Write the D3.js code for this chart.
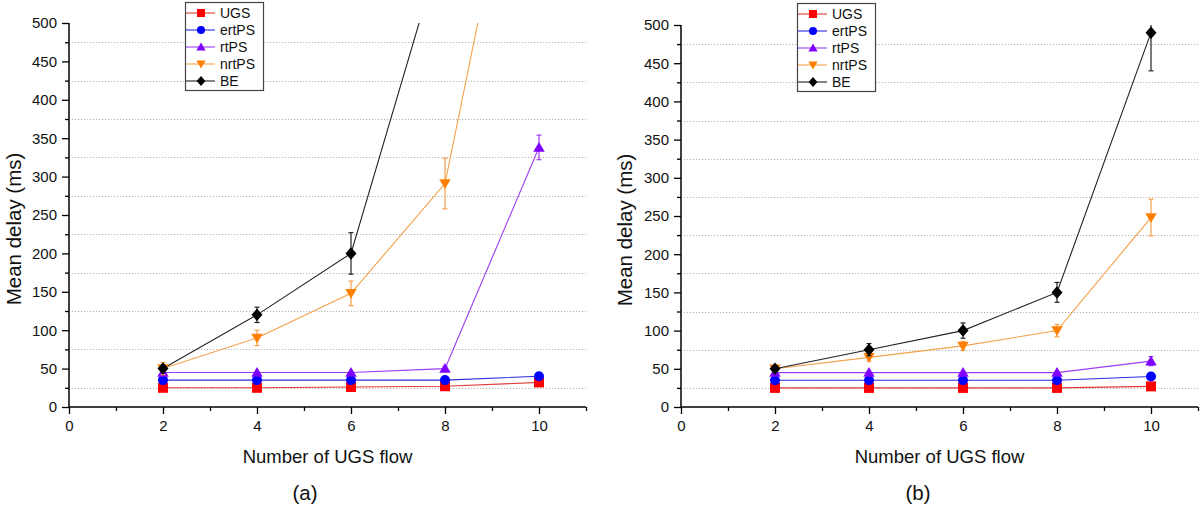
<!DOCTYPE html>
<html>
<head>
<meta charset="utf-8">
<script src="https://cdn.jsdelivr.net/npm/d3@7"></script>
<style>
  html, body { margin: 0; padding: 0; background: #fff; }
  svg { display: block; font-family: "Liberation Sans", Arial, sans-serif; }
</style>
</head>
<body>
<svg id="chart" width="1200" height="506"></svg>
<script>
// ---------- data ----------
const xValues = [2, 4, 6, 8, 10];
const seriesNames = ["UGS", "ertPS", "rtPS", "nrtPS", "BE"];
const yTicks = [0, 50, 100, 150, 200, 250, 300, 350, 400, 450, 500];
const xTicks = [0, 2, 4, 6, 8, 10];
const panelLabels = ["(a)", "(b)"];

// panel (a)
const ugsA   = [25, 25, 26, 27, 32];
const ertpsA = [35, 35, 35, 35, 40];
const rtpsA  = [45, 45, 45, 50, 338];
const nrtpsA = [50, 90, 148, 291, 890];
const beA    = [50, 120, 200, 614, null];
const ugsErrA   = [1, 1, 1, 1, 2];
const ertpsErrA = [1, 1, 1, 1, 2];
const rtpsErrA  = [1, 1, 1, 3, 16];
const nrtpsErrA = [8, 10, 16, 33, 0];
const beErrA    = [4, 10, 27, 0, 0];

// panel (b)
const ugsB   = [25, 25, 25, 25, 27];
const ertpsB = [35, 35, 35, 35, 40];
const rtpsB  = [45, 45, 45, 45, 60];
const nrtpsB = [50, 65, 80, 100, 248];
const beB    = [50, 75, 100, 150, 490];
const ugsErrB   = [1, 1, 1, 1, 2];
const ertpsErrB = [1, 1, 1, 1, 2];
const rtpsErrB  = [1, 1, 1, 2, 6];
const nrtpsErrB = [3, 5, 6, 8, 24];
const beErrB    = [3, 8, 10, 13, 50];

// ---------- styles ----------
const markerColors = ["#ff0000", "#0000ff", "#8000ff", "#ff8000", "#000000"];
const lineColors   = ["#e03a3a", "#2a2ae0", "#9a3cf0", "#f5a04a", "#222222"];
const shapes = ["square", "circle", "triangle", "triangleDown", "diamond"];

const panels = [
  { left: 69, right: 586, top: 23, bottom: 407, legendX: 185, legendY: 2,
    values: [ugsA, ertpsA, rtpsA, nrtpsA, beA],
    errors: [ugsErrA, ertpsErrA, rtpsErrA, nrtpsErrA, beErrA],
    yTitleX: 13, labelX: 305 },
  { left: 681, right: 1198, top: 25, bottom: 407, legendX: 797, legendY: 3,
    values: [ugsB, ertpsB, rtpsB, nrtpsB, beB],
    errors: [ugsErrB, ertpsErrB, rtpsErrB, nrtpsErrB, beErrB],
    yTitleX: 624, labelX: 918 }
];

const svg = d3.select("#chart");

function markerPath(shape, s) {
  const h = s / 2;
  switch (shape) {
    case "square": return `M${-h},${-h}H${h}V${h}H${-h}Z`;
    case "circle": return d3.symbol(d3.symbolCircle, Math.PI * h * h)();
    case "triangle": return `M0,${-h * 1.1}L${h * 1.15},${h * 0.85}L${-h * 1.15},${h * 0.85}Z`;
    case "triangleDown": return `M0,${h * 1.1}L${h * 1.15},${-h * 0.85}L${-h * 1.15},${-h * 0.85}Z`;
    case "diamond": return `M0,${-h * 1.25}L${h * 1.1},0L0,${h * 1.25}L${-h * 1.1},0Z`;
  }
}

panels.forEach((p, pi) => {
  const x = d3.scaleLinear().domain([0, 11]).range([p.left, p.right]);
  const y = d3.scaleLinear().domain([0, 500]).range([p.bottom, p.top]);
  const g = svg.append("g");

  const clipId = "clip" + pi;
  svg.append("clipPath").attr("id", clipId)
    .append("rect")
    .attr("x", p.left).attr("y", p.top)
    .attr("width", p.right - p.left).attr("height", p.bottom - p.top + 10);

  // grid at minor positions
  const gridVals = d3.range(25, 500, 50);
  g.append("g").selectAll("line").data(gridVals).join("line")
    .attr("x1", p.left + 3).attr("x2", p.right)
    .attr("y1", d => Math.round(y(d)) + 0.5).attr("y2", d => Math.round(y(d)) + 0.5)
    .attr("stroke", "#b5b5b5").attr("stroke-width", 1)
    .attr("stroke-dasharray", "1.2,1.8");

  // y axis
  const yAxis = d3.axisLeft(y).tickValues(yTicks).tickSize(7).tickPadding(5).tickSizeOuter(0);
  const ya = g.append("g").attr("transform", `translate(${p.left},0)`).call(yAxis);
  ya.select(".domain").attr("stroke", "#000").attr("stroke-width", 1.5)
    .attr("d", `M0,${p.top}V${p.bottom}`);
  ya.selectAll(".tick line").attr("stroke", "#000").attr("stroke-width", 1.3);
  ya.selectAll(".tick text").attr("font-size", 15).attr("fill", "#111")
    .attr("font-family", "Liberation Sans, Arial, sans-serif");
  // y minor ticks
  const yMinor = d3.axisLeft(y).tickValues(gridVals).tickSize(4).tickFormat("");
  const ym = g.append("g").attr("transform", `translate(${p.left},0)`).call(yMinor);
  ym.select(".domain").remove();
  ym.selectAll(".tick line").attr("stroke", "#000").attr("stroke-width", 1.3);

  // x axis
  const xAxis = d3.axisBottom(x).tickValues(xTicks).tickSize(7).tickPadding(6).tickSizeOuter(0);
  const xa = g.append("g").attr("transform", `translate(0,${p.bottom})`).call(xAxis);
  xa.select(".domain").attr("stroke", "#000").attr("stroke-width", 1.5)
    .attr("d", `M${p.left},0H${p.right}`);
  xa.selectAll(".tick line").attr("stroke", "#000").attr("stroke-width", 1.3);
  xa.selectAll(".tick text").attr("font-size", 15).attr("fill", "#111")
    .attr("font-family", "Liberation Sans, Arial, sans-serif");
  const xMinor = d3.axisBottom(x).tickValues([1, 3, 5, 7, 9, 11]).tickSize(4).tickFormat("");
  const xm = g.append("g").attr("transform", `translate(0,${p.bottom})`).call(xMinor);
  xm.select(".domain").remove();
  xm.selectAll(".tick line").attr("stroke", "#000").attr("stroke-width", 1.3);

  // titles
  g.append("text")
    .attr("transform", `translate(${p.yTitleX},${(p.top + p.bottom) / 2 + 14}) rotate(-90)`)
    .attr("text-anchor", "middle").attr("dominant-baseline", "central")
    .attr("font-size", 20.5).attr("fill", "#111").text("Mean delay (ms)");
  g.append("text")
    .attr("x", (p.left + p.right) / 2).attr("y", 463)
    .attr("text-anchor", "middle")
    .attr("font-size", 18.5).attr("fill", "#111").text("Number of UGS flow");
  g.append("text")
    .attr("x", p.labelX).attr("y", 500)
    .attr("text-anchor", "middle")
    .attr("font-size", 20.5).attr("fill", "#111").text(panelLabels[pi]);

  // data
  const dataG = g.append("g").attr("clip-path", `url(#${clipId})`);
  const line = d3.line()
    .defined(d => d.v !== null)
    .x(d => x(d.x)).y(d => y(d.v));

  seriesNames.forEach((name, si) => {
    const pts = xValues.map((xv, i) => ({ x: xv, v: p.values[si][i], e: p.errors[si][i] }));
    dataG.append("path").datum(pts)
      .attr("d", line)
      .attr("fill", "none").attr("stroke", lineColors[si]).attr("stroke-width", 1.1);
  });

  seriesNames.forEach((name, si) => {
    const pts = xValues.map((xv, i) => ({ x: xv, v: p.values[si][i], e: p.errors[si][i] }))
      .filter(d => d.v !== null);
    // error bars
    const eb = dataG.append("g").attr("stroke", si === 4 ? "#222" : lineColors[si]).attr("stroke-width", 1.2);
    pts.filter(d => d.e > 2).forEach(d => {
      eb.append("line").attr("x1", x(d.x)).attr("x2", x(d.x))
        .attr("y1", y(d.v - d.e)).attr("y2", y(d.v + d.e));
      [d.v - d.e, d.v + d.e].forEach(ev => {
        eb.append("line").attr("x1", x(d.x) - 2.5).attr("x2", x(d.x) + 2.5)
          .attr("y1", y(ev)).attr("y2", y(ev));
      });
    });
    // markers
    dataG.append("g").selectAll("path").data(pts).join("path")
      .attr("transform", d => `translate(${x(d.x)},${y(d.v)})`)
      .attr("d", markerPath(shapes[si], 10))
      .attr("fill", markerColors[si]);
  });

  // legend
  const lg = g.append("g").attr("transform", `translate(${p.legendX},${p.legendY})`);
  lg.append("rect").attr("x", 0.5).attr("y", 0.5).attr("width", 78).attr("height", 88)
    .attr("fill", "#fff").attr("stroke", "#444").attr("stroke-width", 1.2);
  seriesNames.forEach((name, si) => {
    const cy = 11 + si * 17;
    lg.append("line").attr("x1", 1).attr("x2", 30).attr("y1", cy).attr("y2", cy)
      .attr("stroke", lineColors[si]).attr("stroke-width", 1.1);
    lg.append("path").attr("transform", `translate(16,${cy})`)
      .attr("d", markerPath(shapes[si], 8)).attr("fill", markerColors[si]);
    lg.append("text").attr("x", 35).attr("y", cy).attr("dominant-baseline", "central")
      .attr("font-size", 14).attr("fill", "#111").text(name);
  });
});
</script>
</body>
</html>
